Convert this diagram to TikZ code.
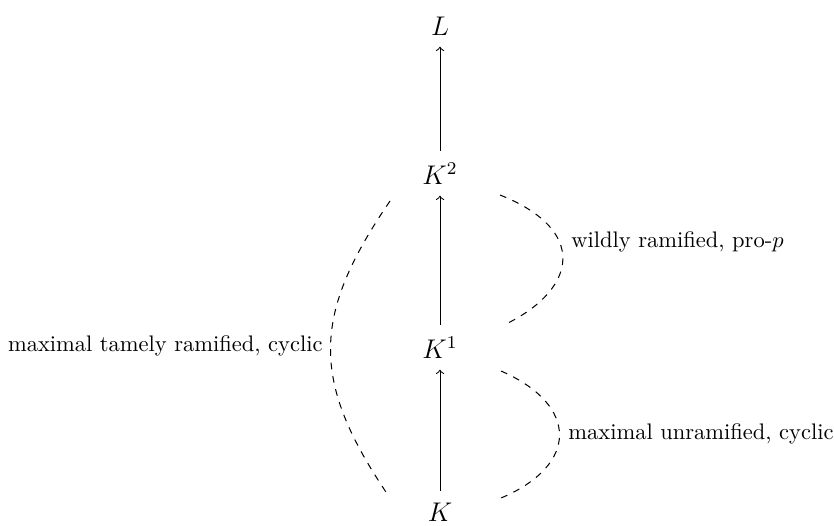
\documentclass[tikz,border=0pt]{standalone}
\begin{document}
\begin{tikzpicture}[x=0.4444pt,y=-0.4444pt,
  field/.style={font=\large,inner sep=5pt},
  ext/.style={->,line width=0.45pt},
  arc/.style={dashed,line width=0.45pt},
  lbl/.style={inner sep=0pt}]
\useasboundingbox (0,0) rectangle (834,525);
\node[field,anchor=base] (L)  at (440,35)  {$L$};
\node[field,anchor=base] (K2) at (440,184) {$K^2$};
\node[field,anchor=base] (K1) at (440,358) {$K^1$};
\node[field,anchor=base] (K)  at (440,521) {$K$};
\draw[ext] (K) -- (K1);
\draw[ext] (K1) -- (K2);
\draw[ext] (K2) -- (L);
% dashed arcs
\coordinate (a1) at (501,371);
\coordinate (a2) at (501,498);
\coordinate (b1) at (500,195);
\coordinate (b2) at (508,323);
\coordinate (c1) at (390,201);
\coordinate (c2) at (388,495);
\draw[arc] (a1) .. controls (579,405) and (579,465) .. (a2);
\draw[arc] (b1) .. controls (588,230) and (577,288) .. (b2);
\draw[arc] (c1) .. controls (312,315) and (310,380) .. (c2);
\node[lbl,anchor=base west] (unr) at (568,439) {maximal unramified, cyclic};
\node[lbl,anchor=base west] (wild) at (571,247) {wildly ramified, pro-$p$};
\node[lbl,anchor=base east] (tame) at (323,351) {maximal tamely ramified, cyclic};
\end{tikzpicture}
\end{document}
